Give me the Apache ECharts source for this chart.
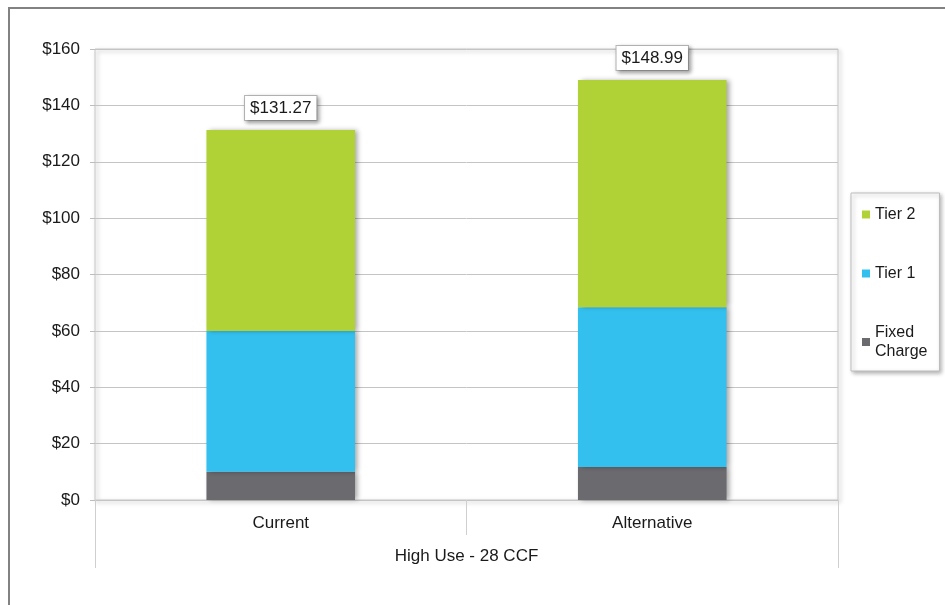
<!DOCTYPE html>
<html>
<head>
<meta charset="utf-8">
<title>High Use - 28 CCF</title>
<script src="https://cdn.jsdelivr.net/npm/echarts@6/dist/echarts.min.js"></script>
<style>
  html, body { margin: 0; padding: 0; background: #fff; }
  #chart { width: 945px; height: 605px; }
</style>
</head>
<body>
<div id="chart"></div>
<script>
// Monthly bill components for a high-use customer (28 CCF)
const scenarios = ['Current', 'Alternative'];
const groupLabel = ['High Use - 28 CCF'];
const fixedCharge = [10.05, 11.70];
const tier1 = [49.95, 56.70];
const tier2 = [71.27, 80.59];
const yTicks = [0, 20, 40, 60, 80, 100, 120, 140, 160];

const FONT = '"Liberation Sans", Arial, sans-serif';
const TEXT = '#1a1a1a';
const FS = 17;

function billTotal(i) {
  return fixedCharge[i] + tier1[i] + tier2[i];
}

const barShadow = {
  shadowColor: 'rgba(0,0,0,0.35)',
  shadowBlur: 5,
  shadowOffsetX: 3,
  shadowOffsetY: 0
};

const chart = echarts.init(document.getElementById('chart'), null, { renderer: 'canvas' });

chart.setOption({
  animation: false,
  textStyle: { fontFamily: FONT },
  graphic: [{
    type: 'rect',
    shape: { x: 9, y: 8, width: 1000, height: 700 },
    style: { fill: 'none', stroke: '#828282', lineWidth: 2 },
    silent: true,
    z: -10
  }],
  grid: {
    left: 95, right: 107, top: 49, bottom: 105,
    show: true,
    backgroundColor: 'rgba(255,255,255,0)',
    borderColor: '#c6c6c6',
    borderWidth: 1,
    shadowColor: 'rgba(0,0,0,0.35)',
    shadowBlur: 4,
    shadowOffsetX: 2,
    shadowOffsetY: 2
  },
  legend: {
    orient: 'vertical',
    left: 851, top: 193,
    data: ['Tier 2', 'Tier 1', 'Fixed Charge'],
    icon: 'rect',
    itemWidth: 8, itemHeight: 8,
    itemGap: 40,
    padding: [12, 12, 10, 11],
    backgroundColor: '#ffffff',
    borderColor: '#bdbdbd',
    borderWidth: 1,
    shadowColor: 'rgba(0,0,0,0.3)',
    shadowBlur: 4,
    shadowOffsetX: 2,
    shadowOffsetY: 2,
    formatter: name => name === 'Fixed Charge' ? 'Fixed\nCharge' : name,
    textStyle: { fontFamily: FONT, fontSize: 16, lineHeight: 19, color: TEXT }
  },
  xAxis: [{
    type: 'category',
    data: scenarios,
    position: 'bottom',
    axisLine: { show: false },
    axisTick: { show: true, length: 35, alignWithLabel: false, lineStyle: { color: '#cfcfcf' } },
    axisLabel: { margin: 15, fontSize: FS, color: TEXT, fontFamily: FONT },
    splitLine: { show: false }
  }, {
    type: 'category',
    data: groupLabel,
    position: 'bottom',
    offset: 35,
    axisLine: { show: false },
    axisTick: { show: true, length: 33, lineStyle: { color: '#cfcfcf' } },
    axisLabel: { margin: 13, fontSize: FS, color: TEXT, fontFamily: FONT },
    splitLine: { show: false }
  }],
  yAxis: {
    type: 'value',
    min: yTicks[0],
    max: yTicks[yTicks.length - 1],
    interval: yTicks[1] - yTicks[0],
    axisLine: { show: false },
    axisTick: { show: true, length: 5, lineStyle: { color: '#bdbdbd' } },
    axisLabel: {
      margin: 15, fontSize: FS, color: TEXT, fontFamily: FONT,
      padding: [5, 0, 0, 0],
      formatter: v => '$' + v
    },
    splitLine: { lineStyle: { color: '#c4c4c4', width: 1 } }
  },
  series: [{
    name: 'Fixed Charge',
    type: 'bar',
    stack: 'bill',
    barWidth: '40%',
    data: fixedCharge,
    itemStyle: Object.assign({ color: '#6a6a6f' }, barShadow)
  }, {
    name: 'Tier 1',
    type: 'bar',
    stack: 'bill',
    data: tier1,
    itemStyle: Object.assign({ color: '#34c0ee' }, barShadow)
  }, {
    name: 'Tier 2',
    type: 'bar',
    stack: 'bill',
    data: tier2,
    itemStyle: Object.assign({ color: '#b1d236' }, barShadow),
    label: {
      show: true,
      position: 'top',
      distance: 10,
      formatter: p => '$' + billTotal(p.dataIndex).toFixed(2),
      fontFamily: FONT,
      fontSize: FS,
      color: TEXT,
      backgroundColor: '#ffffff',
      borderColor: '#b8b8b8',
      borderWidth: 1,
      padding: [4, 5, 3, 5],
      shadowColor: 'rgba(0,0,0,0.35)',
      shadowBlur: 4,
      shadowOffsetX: 2,
      shadowOffsetY: 2
    }
  }]
});
</script>
</body>
</html>
